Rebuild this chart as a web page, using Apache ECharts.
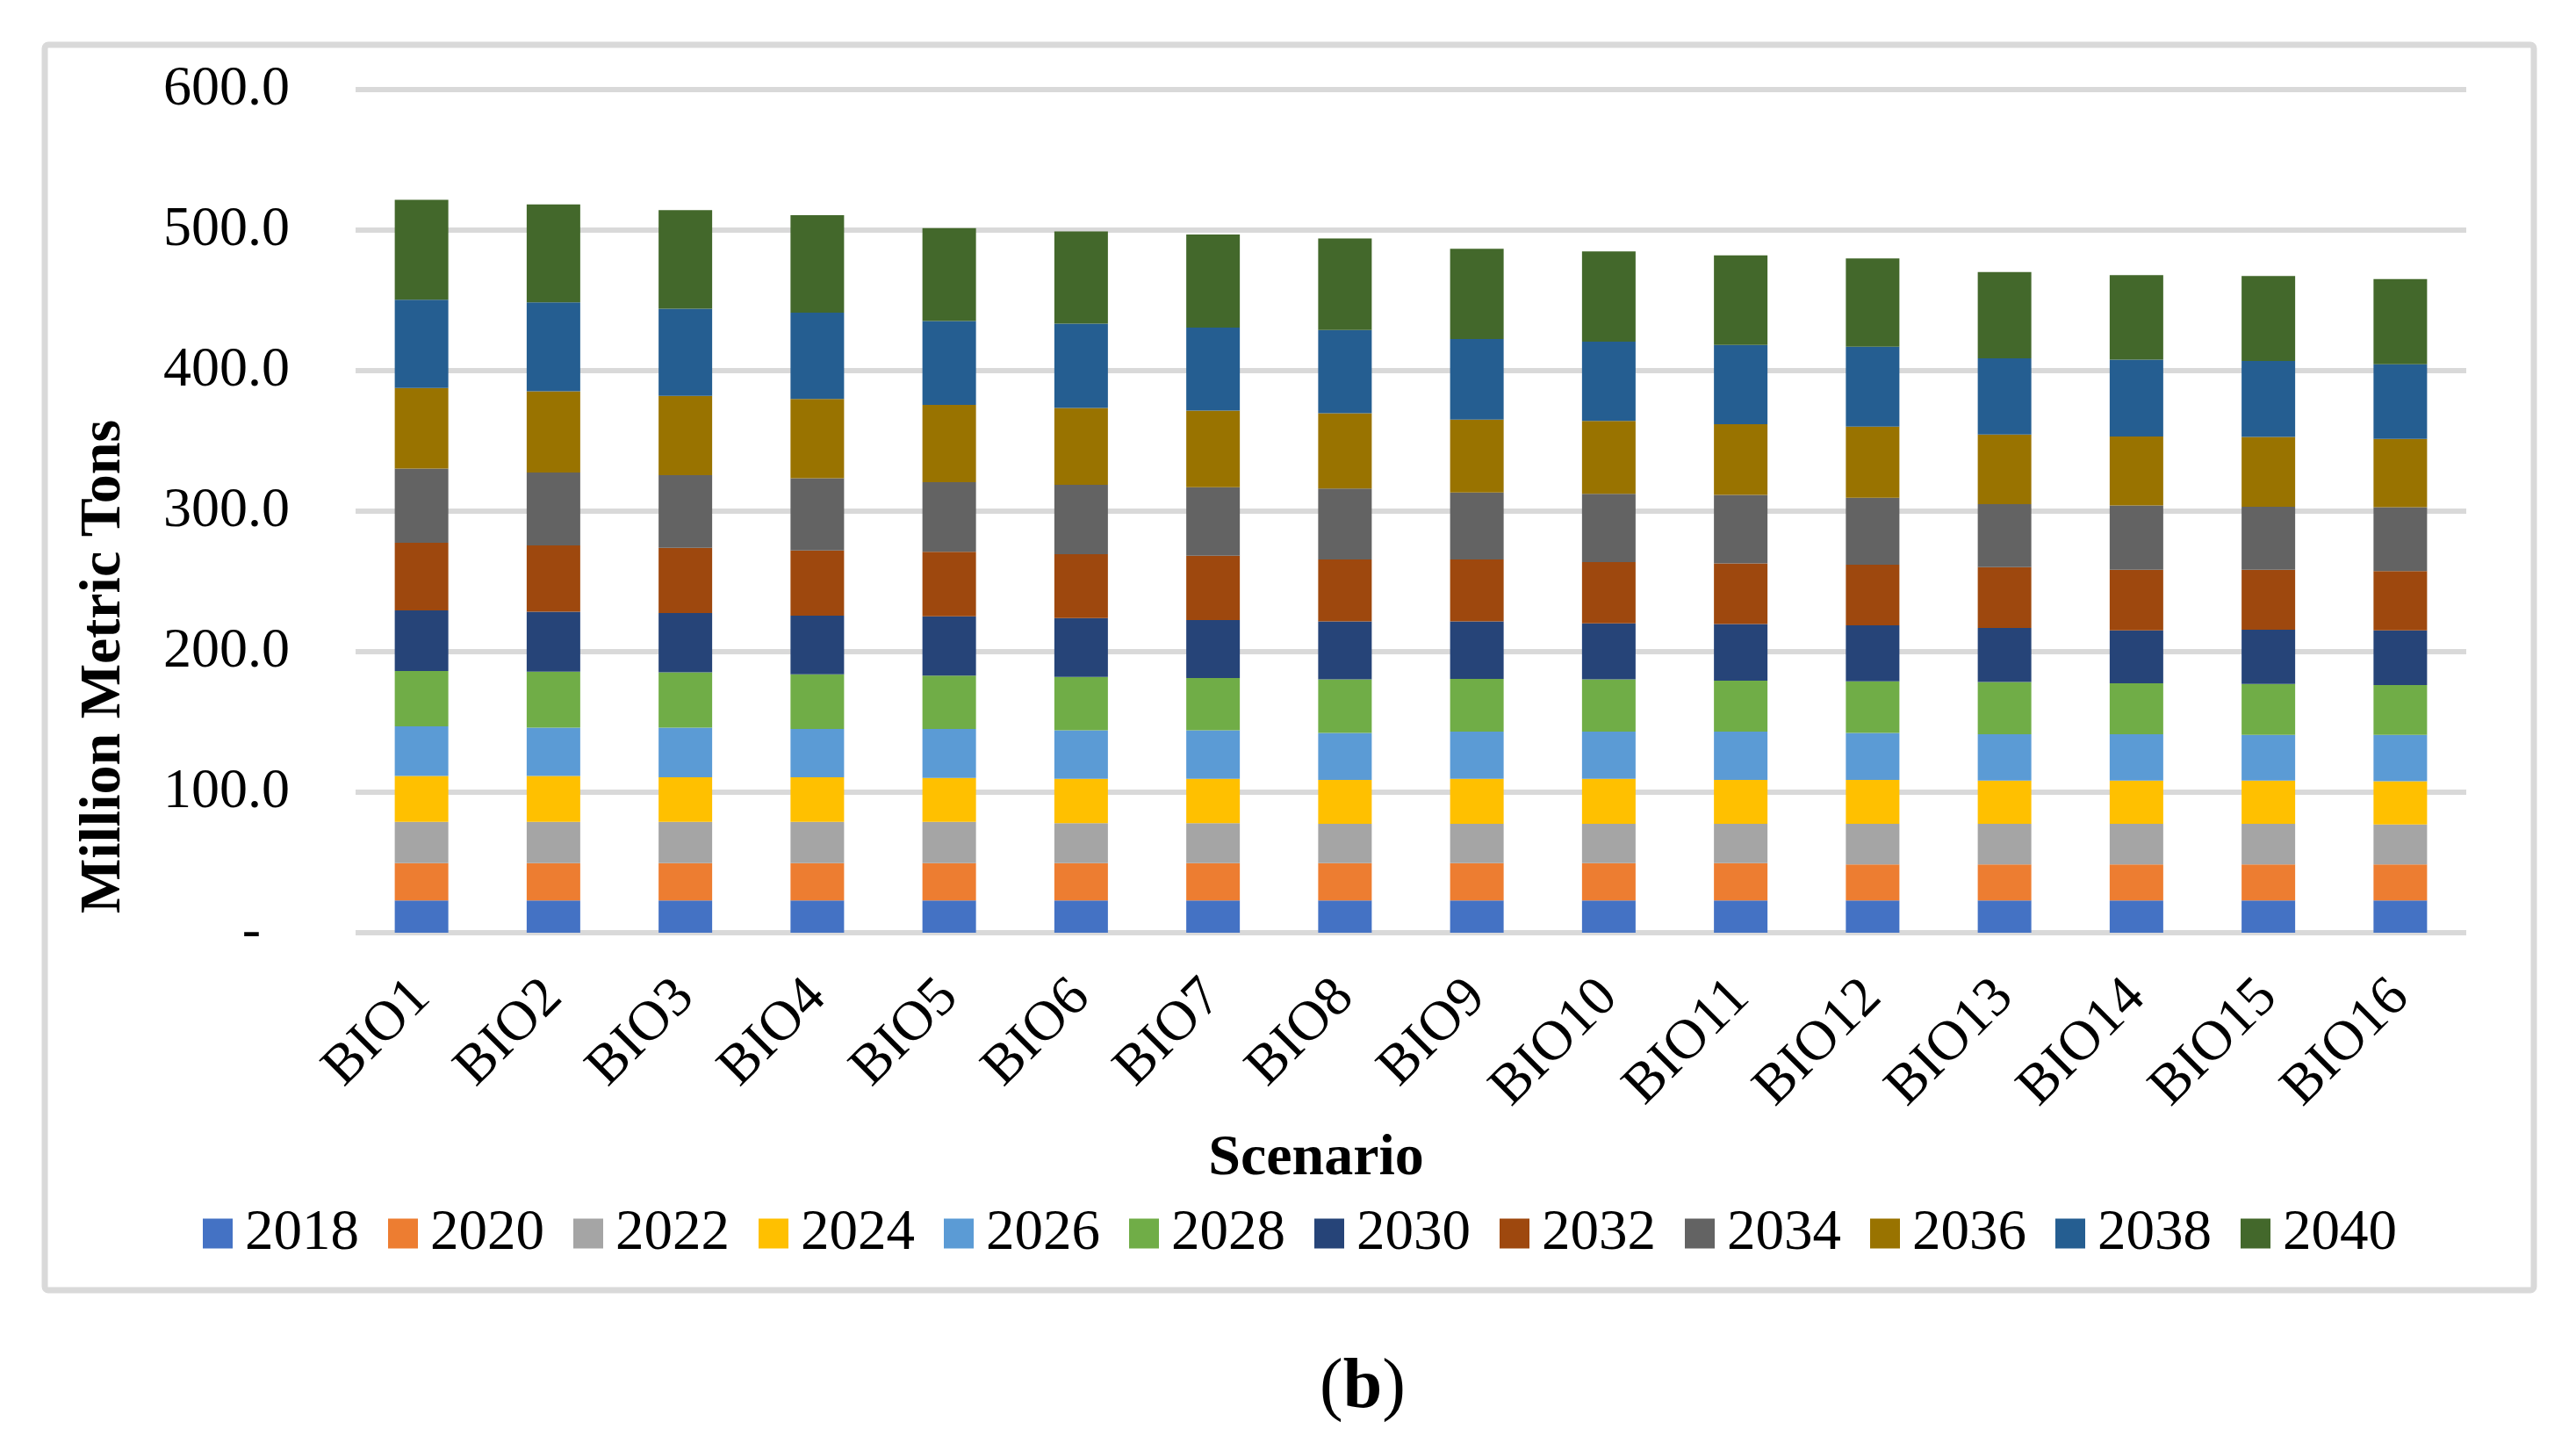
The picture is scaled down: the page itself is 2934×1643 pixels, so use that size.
<!DOCTYPE html>
<html>
<head>
<meta charset="utf-8">
<script src="https://cdn.jsdelivr.net/npm/echarts@6/dist/echarts.min.js"></script>
<style>html,body{margin:0;padding:0;background:#fff;}#c{width:2934px;height:1643px;}</style>
</head>
<body>
<div id="c"></div>
<script>
const categories = ['BIO1','BIO2','BIO3','BIO4','BIO5','BIO6','BIO7','BIO8','BIO9','BIO10','BIO11','BIO12','BIO13','BIO14','BIO15','BIO16'];
const years = ['2018','2020','2022','2024','2026','2028','2030','2032','2034','2036','2038','2040'];
const yTicks = [0, 100, 200, 300, 400, 500, 600];

const v2018 = [22.9,22.9,22.9,22.9,22.9,22.9,22.9,22.9,22.9,22.9,22.9,22.9,22.9,22.9,22.9,22.9];
const v2020 = [26.6,26.6,26.6,26.6,26.6,26.6,26.6,26.6,26.6,26.6,26.6,25.7,25.7,25.7,25.7,25.7];
const v2022 = [29.4,29.4,29.4,29.4,29.4,28.5,28.5,28.0,28.0,28.0,28.0,28.9,28.9,28.9,28.9,28.5];
const v2024 = [32.6,32.6,31.7,31.7,31.2,31.6,31.6,31.2,32.1,32.1,31.2,31.2,30.8,30.8,30.8,30.7];
const v2026 = [35.3,34.4,35.3,34.4,34.9,34.4,34.4,33.5,33.5,33.5,34.4,33.5,33.0,33.0,32.5,33.0];
const v2028 = [39.4,39.9,39.4,38.9,38.0,38.1,37.2,38.1,37.6,37.2,36.3,36.7,37.1,36.2,36.3,35.4];
const v2030 = [43.2,42.6,42.2,41.8,42.2,41.8,41.3,41.3,40.9,39.9,40.3,39.9,38.5,37.6,38.5,38.9];
const v2032 = [48.1,47.3,46.4,46.3,45.9,45.4,45.8,44.0,44.0,43.6,43.1,43.1,43.2,43.2,42.7,42.2];
const v2034 = [52.8,51.8,51.8,51.4,49.5,49.5,48.7,50.5,47.7,48.6,48.7,47.7,44.9,45.8,44.9,45.5];
const v2036 = [57.3,57.8,56.4,56.4,55.1,54.6,54.6,53.6,51.8,51.8,50.4,50.5,49.6,49.1,49.6,48.6];
const v2038 = [62.9,63.3,61.9,61.5,59.6,60.1,59.1,59.2,57.4,56.4,56.4,56.9,54.1,54.6,54.1,53.2];
const v2040 = [71.1,69.7,70.2,69.3,66.1,65.6,66.1,65.1,64.2,64.3,63.8,62.8,61.5,60.1,60.5,60.5];

const seriesValues = [v2018,v2020,v2022,v2024,v2026,v2028,v2030,v2032,v2034,v2036,v2038,v2040];
const colors = ['#4472C4','#ED7D31','#A5A5A5','#FFC000','#5B9BD5','#70AD47','#264478','#9E480E','#636363','#997300','#255E91','#43682B'];

const FONT = "'Liberation Serif','Times New Roman',serif";

const chart = echarts.init(document.getElementById('c'), null, {renderer: 'canvas'});
chart.setOption({
  backgroundColor: '#fff',
  animation: false,
  textStyle: {fontFamily: FONT, color: '#000'},
  title: {
    text: '({b|b})',
    left: 1498,
    top: 1536,
    textStyle: {
      fontFamily: FONT, fontSize: 80, fontWeight: 'normal', color: '#000',
      rich: {b: {fontFamily: FONT, fontSize: 80, fontWeight: 'bold', color: '#000'}}
    }
  },
  graphic: [{
    type: 'rect',
    shape: {x: 51, y: 51, width: 2835, height: 1418, r: 4},
    style: {fill: 'none', stroke: '#d9d9d9', lineWidth: 7},
    z: -1
  }],
  grid: {left: 405, right: 125, top: 102, bottom: 581, containLabel: false},
  legend: {
    data: years,
    left: 226,
    top: 1367,
    itemWidth: 34,
    itemHeight: 34,
    itemGap: 33,
    icon: 'rect',
    textStyle: {fontFamily: FONT, fontSize: 65, color: '#000', lineHeight: 64, padding: [0, 0, 0, 9]}
  },
  xAxis: {
    type: 'category',
    data: categories,
    name: 'Scenario',
    nameLocation: 'middle',
    nameGap: 225,
    nameTextStyle: {fontFamily: FONT, fontSize: 66, fontWeight: 'bold', color: '#000', padding: [0, 216, 0, 0]},
    axisLine: {show: false},
    axisTick: {show: false},
    axisLabel: {fontFamily: FONT, fontSize: 64, color: '#000', rotate: 45, margin: 64, interval: 0}
  },
  yAxis: {
    type: 'value',
    min: 0,
    max: 600,
    interval: 100,
    name: 'Million Metric Tons',
    nameLocation: 'middle',
    nameRotate: 90,
    nameGap: 253,
    nameTextStyle: {fontFamily: FONT, fontSize: 66, fontWeight: 'bold', color: '#000', padding: [0, 354, 0, 0]},
    axisLine: {show: false},
    axisTick: {show: false},
    splitLine: {show: true, lineStyle: {color: '#d9d9d9', width: 6}},
    axisLabel: {
      fontFamily: FONT, fontSize: 64, color: '#000', margin: 75,
      formatter: function (v) { return v === yTicks[0] ? '{d|-}' : v.toFixed(1); },
      rich: {d: {fontFamily: FONT, fontSize: 64, color: '#000', padding: [0, 33, 0, 0]}}
    }
  },
  series: years.map(function (y, i) {
    return {
      name: y,
      type: 'bar',
      stack: 'total',
      barWidth: 61,
      itemStyle: {color: colors[i]},
      data: seriesValues[i]
    };
  })
});
</script>
</body>
</html>
